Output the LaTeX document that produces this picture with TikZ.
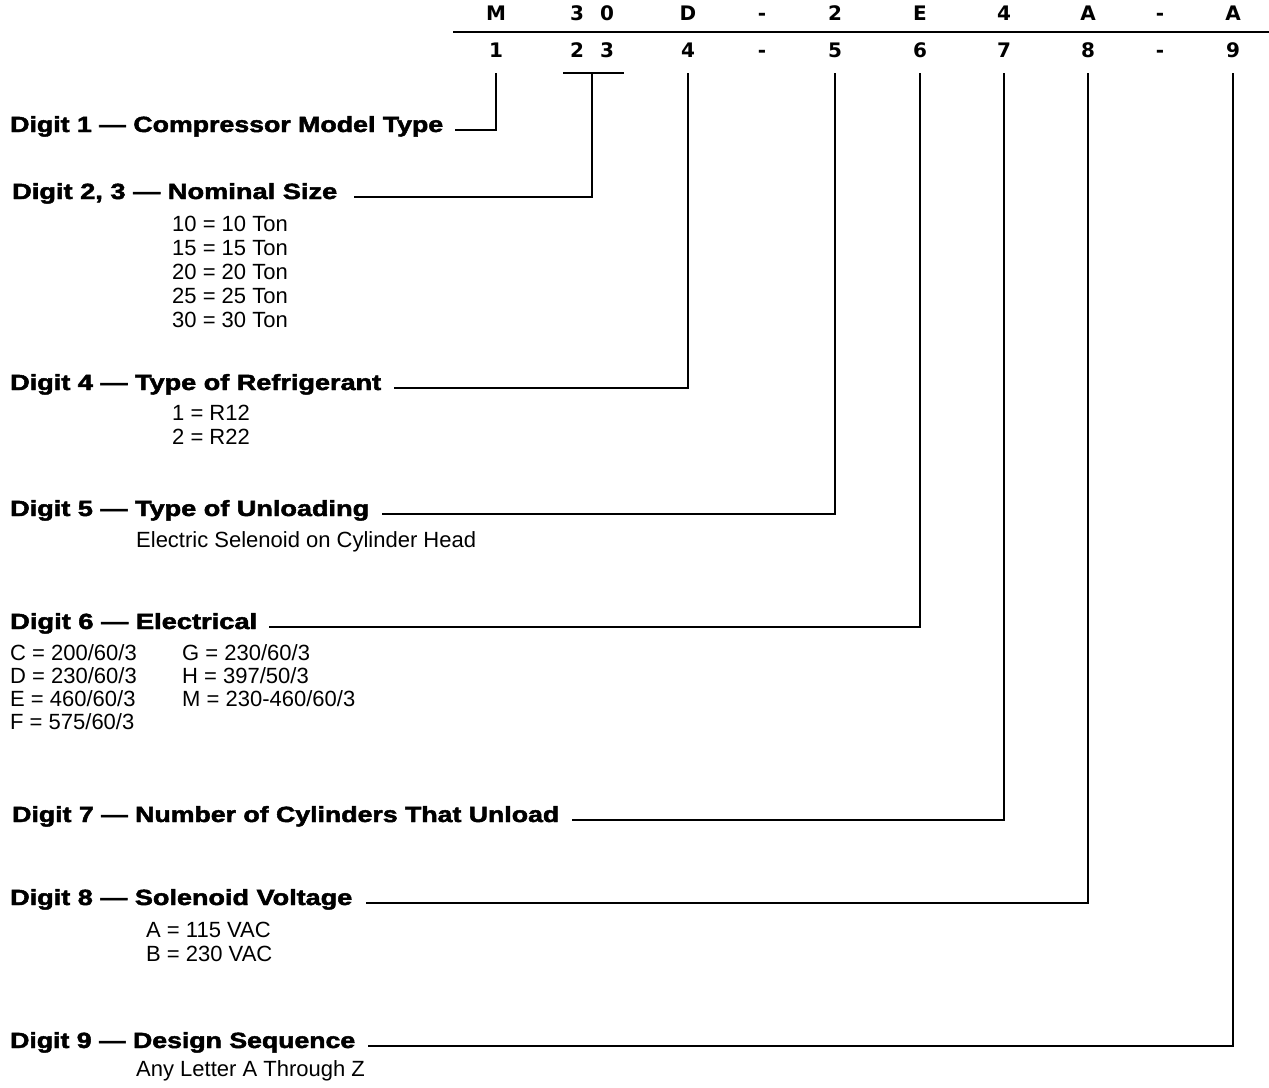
\documentclass[tikz,border=0pt]{standalone}
\usepackage{fontspec}
\usepackage{graphicx}
\setmainfont{Liberation Sans}
\newfontfamily\headfont{Liberation Sans}[BoldFeatures={FakeBold=2}]
\newfontfamily\codefont{DejaVu Sans}
\usetikzlibrary{positioning}
\newcommand{\hd}[2]{\resizebox{#1}{\height}{#2}}

\begin{document}
\begin{tikzpicture}[
  x=1pt, y=-1pt,
  every node/.style={inner sep=0pt},
  code/.style={anchor=base, font=\codefont\bfseries\fontsize{20}{22}\selectfont},
  head/.style={anchor=base west, font=\headfont\bfseries\fontsize{22}{26}\selectfont},
  body/.style={anchor=base west, font=\fontsize{22}{24}\selectfont},
  lead/.style={line width=1.8pt}]
\useasboundingbox (0,0) rectangle (1269,1087);
% model number and digit positions
\foreach \x/\c/\d/\n in {496/M/1/p1, 577/3/2/p2, 607/0/3/p3, 688/D/4/p4,
    762/-/-/sepa, 835/2/5/p5, 920/E/6/p6, 1004/4/7/p7, 1088/A/8/p8,
    1160/-/-/sepb, 1233/A/9/p9} {
  \node[code] (l-\n) at (\x,20) {\c};
  \node[code] (\n) at (\x,57) {\d};
}
\draw[lead] (453,32) -- (1269,32);
% tops of the leaders
\foreach \n in {p1,p4,p5,p6,p7,p8,p9}
  \path (\n.base) ++(0,16) coordinate (t-\n);
\path (p2.base) -- (p3.base) coordinate[pos=0.5] (m23);
\path (m23) ++(0,16) coordinate (t-p23);
\draw[lead] ([xshift=-29pt]t-p23) -- ([xshift=32pt]t-p23);

% headings
\node[head] (h1) at (10,132) {\hd{433pt}{Digit 1 — Compressor Model Type}};
\node[head] (h23) at (12,199) {\hd{325pt}{Digit 2, 3 — Nominal Size}};
\node[head] (h4) at (10,390) {\hd{371pt}{Digit 4 — Type of Refrigerant}};
\node[head] (h5) at (10,516) {\hd{359pt}{Digit 5 — Type of Unloading}};
\node[head] (h6) at (10,629) {\hd{247pt}{Digit 6 — Electrical}};
\node[head] (h7) at (12,822)
  {\hd{547pt}{Digit 7 — Number of Cylinders That Unload}};
\node[head] (h8) at (10,905) {\hd{342pt}{Digit 8 — Solenoid Voltage}};
\node[head] (h9) at (10,1048) {\hd{345pt}{Digit 9 — Design Sequence}};

% leaders from heading to digit
\draw[lead] ([xshift=12pt,yshift=2pt]h1.base east) -| (t-p1);
\draw[lead] ([xshift=17pt,yshift=2pt]h23.base east) -| (t-p23);
\draw[lead] ([xshift=13pt,yshift=2pt]h4.base east) -| (t-p4);
\draw[lead] ([xshift=13pt,yshift=2pt]h5.base east) -| (t-p5);
\draw[lead] ([xshift=12pt,yshift=2pt]h6.base east) -| (t-p6);
\draw[lead] ([xshift=13pt,yshift=2pt]h7.base east) -| (t-p7);
\draw[lead] ([xshift=14pt,yshift=2pt]h8.base east) -| (t-p8);
\draw[lead] ([xshift=13pt,yshift=2pt]h9.base east) -| (t-p9);

% values
\foreach \t [count=\i] in {10 = 10 Ton, 15 = 15 Ton, 20 = 20 Ton,
    25 = 25 Ton, 30 = 30 Ton}
  \node[body] (size\i) at (172,207+24*\i) {\t};
\foreach \t [count=\i] in {1 = R12, 2 = R22}
  \node[body] (refr\i) at (172,396+24*\i) {\t};
\node[body] (unload) at (136,547) {Electric Selenoid on Cylinder Head};
\foreach \t [count=\i] in {C = 200/60/3, D = 230/60/3, E = 460/60/3,
    F = 575/60/3}
  \node[body] (elec\i) at (10,637+23*\i) {\t};
\foreach \t [count=\i] in {G = 230/60/3, H = 397/50/3, M = 230-460/60/3}
  \node[body] (elecb\i) at (182,637+23*\i) {\t};
\foreach \t [count=\i] in {A = 115 VAC, B = 230 VAC}
  \node[body] (volt\i) at (146,913+24*\i) {\t};
\node[body] (design) at (136,1076) {Any Letter A Through Z};
\end{tikzpicture}
\end{document}
